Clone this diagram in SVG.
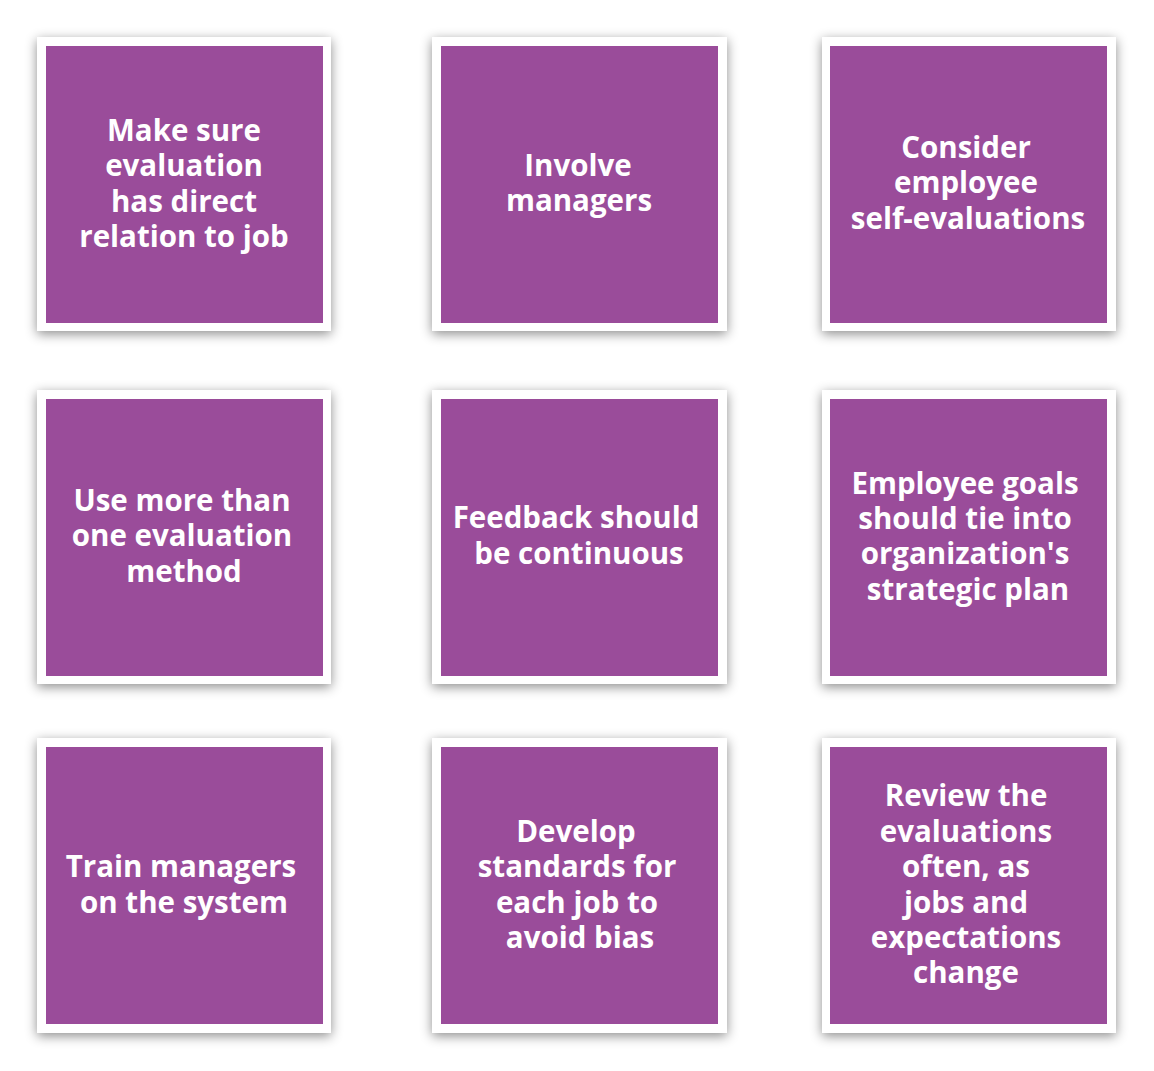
<svg xmlns="http://www.w3.org/2000/svg" width="1154" height="1071" viewBox="0 0 1154 1071">
<defs>
<filter id="sh" x="-20%" y="-20%" width="140%" height="140%">
<feDropShadow dx="0" dy="3" stdDeviation="6" flood-color="#000" flood-opacity="0.45"/>
</filter>
<style>
.frame{fill:#ffffff;filter:url(#sh)}
.box{fill:#9a4c9a}
.t{font-family:"Open Sans","Liberation Sans",sans-serif;font-weight:700;font-size:29.5px;fill:#ffffff;text-anchor:middle}
</style>
</defs>
<rect width="1154" height="1071" fill="#ffffff"/>
<g id="node1">
<rect class="frame" x="37" y="37" width="294" height="294"/>
<rect class="box" x="46" y="46" width="277" height="277"/>
<text class="t" x="184" y="141">Make sure</text>
<text class="t" x="184" y="176">evaluation</text>
<text class="t" x="184" y="212">has direct</text>
<text class="t" x="184" y="247">relation to job</text>
</g>
<g id="node2">
<rect class="frame" x="432" y="37" width="295" height="294"/>
<rect class="box" x="441" y="46" width="277" height="277"/>
<text class="t" x="578" y="176">Involve</text>
<text class="t" x="579" y="211">managers</text>
</g>
<g id="node3">
<rect class="frame" x="822" y="37" width="294" height="294"/>
<rect class="box" x="830" y="46" width="277" height="277"/>
<text class="t" x="966" y="158">Consider</text>
<text class="t" x="966" y="193">employee</text>
<text class="t" x="968" y="229">self-evaluations</text>
</g>
<g id="node4">
<rect class="frame" x="37" y="390" width="294" height="294"/>
<rect class="box" x="46" y="399" width="277" height="277"/>
<text class="t" x="182" y="511">Use more than</text>
<text class="t" x="182" y="546">one evaluation</text>
<text class="t" x="184" y="582">method</text>
</g>
<g id="node5">
<rect class="frame" x="432" y="390" width="295" height="294"/>
<rect class="box" x="441" y="399" width="277" height="277"/>
<text class="t" x="576" y="528">Feedback should</text>
<text class="t" x="579" y="564">be continuous</text>
</g>
<g id="node6">
<rect class="frame" x="822" y="390" width="294" height="294"/>
<rect class="box" x="830" y="399" width="277" height="277"/>
<text class="t" x="965" y="494">Employee goals</text>
<text class="t" x="965" y="529">should tie into</text>
<text class="t" x="965" y="564">organization's</text>
<text class="t" x="968" y="600">strategic plan</text>
</g>
<g id="node7">
<rect class="frame" x="37" y="738" width="294" height="295"/>
<rect class="box" x="46" y="747" width="277" height="277"/>
<text class="t" x="181" y="877">Train managers</text>
<text class="t" x="184" y="913">on the system</text>
</g>
<g id="node8">
<rect class="frame" x="432" y="738" width="295" height="295"/>
<rect class="box" x="441" y="747" width="277" height="277"/>
<text class="t" x="576" y="842">Develop</text>
<text class="t" x="577" y="877">standards for</text>
<text class="t" x="577" y="913">each job to</text>
<text class="t" x="580" y="948">avoid bias</text>
</g>
<g id="node9">
<rect class="frame" x="822" y="738" width="294" height="295"/>
<rect class="box" x="830" y="747" width="277" height="277"/>
<text class="t" x="966" y="806">Review the</text>
<text class="t" x="966" y="842">evaluations</text>
<text class="t" x="966" y="877">often, as</text>
<text class="t" x="966" y="913">jobs and</text>
<text class="t" x="966" y="948">expectations</text>
<text class="t" x="966" y="983">change</text>
</g>
<g id="connectors"></g>
</svg>
